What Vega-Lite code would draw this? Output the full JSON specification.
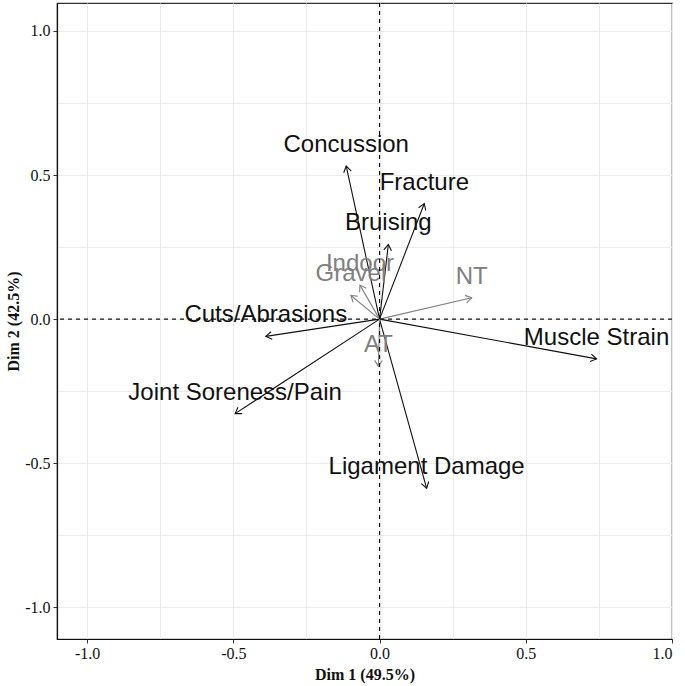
{
  "$schema": "https://vega.github.io/schema/vega-lite/v6.json",
  "width": 615,
  "height": 636,
  "autosize": {"type": "none"},
  "padding": {"left": 57, "top": 3, "right": 13, "bottom": 47},
  "background": "white",
  "config": {
    "view": {"stroke": "#333333", "strokeWidth": 1.2}
  },
  "datasets": {
    "vars": [
      {"name": "Concussion", "x": -0.114, "y": 0.531, "type": "Injury"},
      {"name": "Fracture", "x": 0.153, "y": 0.401, "type": "Injury"},
      {"name": "Bruising", "x": 0.030, "y": 0.259, "type": "Injury"},
      {"name": "Muscle Strain", "x": 0.742, "y": -0.138, "type": "Injury"},
      {"name": "Ligament Damage", "x": 0.161, "y": -0.587, "type": "Injury"},
      {"name": "Joint Soreness/Pain", "x": -0.494, "y": -0.328, "type": "Injury"},
      {"name": "Cuts/Abrasions", "x": -0.389, "y": -0.060, "type": "Injury"},
      {"name": "NT", "x": 0.315, "y": 0.074, "type": "Surface"},
      {"name": "Indoor", "x": -0.067, "y": 0.118, "type": "Surface"},
      {"name": "Gravel", "x": -0.098, "y": 0.082, "type": "Surface"},
      {"name": "AT", "x": -0.004, "y": -0.164, "type": "Surface"}
    ],
    "zero": [{"v": 0}]
  },
  "layer": [
    {
      "data": {"name": "vars"},
      "mark": {"type": "rule", "strokeWidth": 1.1},
      "encoding": {
        "x": {
          "field": "x", "type": "quantitative",
          "scale": {"domain": [-1.103, 1.0], "nice": false, "zero": false},
          "axis": {
            "values": [-1, -0.75, -0.5, -0.25, 0, 0.25, 0.5, 0.75, 1],
            "labelExpr": "abs(datum.value*2 - round(datum.value*2)) < 0.001 ? replace(format(datum.value, '.1f'), '\u2212', '-') : ''",
            "tickOpacity": {"condition": {"test": "abs(datum.value*2 - round(datum.value*2)) < 0.001", "value": 1}, "value": 0},
            "grid": true, "gridColor": "#ebebeb", "gridWidth": 1,
            "domain": true, "domainColor": "#111111", "domainWidth": 1.2,
            "tickColor": "#333333", "tickSize": 4, "tickWidth": 1,
            "labelFont": "Liberation Serif", "labelFontSize": 16, "labelColor": "#111111", "labelPadding": 2,
            "title": "Dim 1 (49.5%)", "titleFont": "Liberation Serif", "titleFontSize": 16,
            "titleFontWeight": "bold", "titleColor": "#111111", "titlePadding": 5
          }
        },
        "y": {
          "field": "y", "type": "quantitative",
          "scale": {"domain": [-1.11, 1.097], "nice": false, "zero": false},
          "axis": {
            "values": [-1, -0.75, -0.5, -0.25, 0, 0.25, 0.5, 0.75, 1],
            "labelExpr": "abs(datum.value*2 - round(datum.value*2)) < 0.001 ? replace(format(datum.value, '.1f'), '\u2212', '-') : ''",
            "tickOpacity": {"condition": {"test": "abs(datum.value*2 - round(datum.value*2)) < 0.001", "value": 1}, "value": 0},
            "grid": true, "gridColor": "#ebebeb", "gridWidth": 1,
            "domain": true, "domainColor": "#111111", "domainWidth": 1.2,
            "tickColor": "#333333", "tickSize": 4, "tickWidth": 1,
            "labelFont": "Liberation Serif", "labelFontSize": 16, "labelColor": "#111111", "labelPadding": 3,
            "title": "Dim 2 (42.5%)", "titleFont": "Liberation Serif", "titleFontSize": 16,
            "titleFontWeight": "bold", "titleColor": "#111111", "titlePadding": 3
          }
        },
        "x2": {"datum": 0},
        "y2": {"datum": 0},
        "color": {
          "field": "type", "type": "nominal",
          "scale": {"domain": ["Injury", "Surface"], "range": ["#111111", "#808080"]},
          "legend": null
        }
      }
    },
    {
      "data": {"name": "vars"},
      "transform": [{"calculate": "atan2(datum.x * 292.7, datum.y * 287.7) * 180 / PI", "as": "ang"}],
      "mark": {
        "type": "point", "filled": false, "strokeWidth": 1.1, "opacity": 1,
        "shape": "M -0.55 0.85 L 0 0 L 0.55 0.85",
        "size": 196
      },
      "encoding": {
        "x": {"field": "x", "type": "quantitative"},
        "y": {"field": "y", "type": "quantitative"},
        "angle": {"field": "ang", "type": "quantitative", "scale": null},
        "color": {"field": "type", "type": "nominal", "legend": null}
      }
    },
    {
      "data": {"name": "vars"},
      "mark": {
        "type": "text", "font": "Liberation Sans", "fontSize": 24,
        "align": "center", "baseline": "middle", "dy": -21
      },
      "encoding": {
        "x": {"field": "x", "type": "quantitative"},
        "y": {"field": "y", "type": "quantitative"},
        "text": {"field": "name"},
        "color": {"field": "type", "type": "nominal", "legend": null}
      }
    },
    {
      "data": {"name": "zero"},
      "mark": {"type": "rule", "color": "#111111", "strokeWidth": 1.1, "strokeDash": [4, 4]},
      "encoding": {"x": {"field": "v", "type": "quantitative"}}
    },
    {
      "data": {"name": "zero"},
      "mark": {"type": "rule", "color": "#111111", "strokeWidth": 1.1, "strokeDash": [4, 4]},
      "encoding": {"y": {"field": "v", "type": "quantitative"}}
    }
  ]
}
